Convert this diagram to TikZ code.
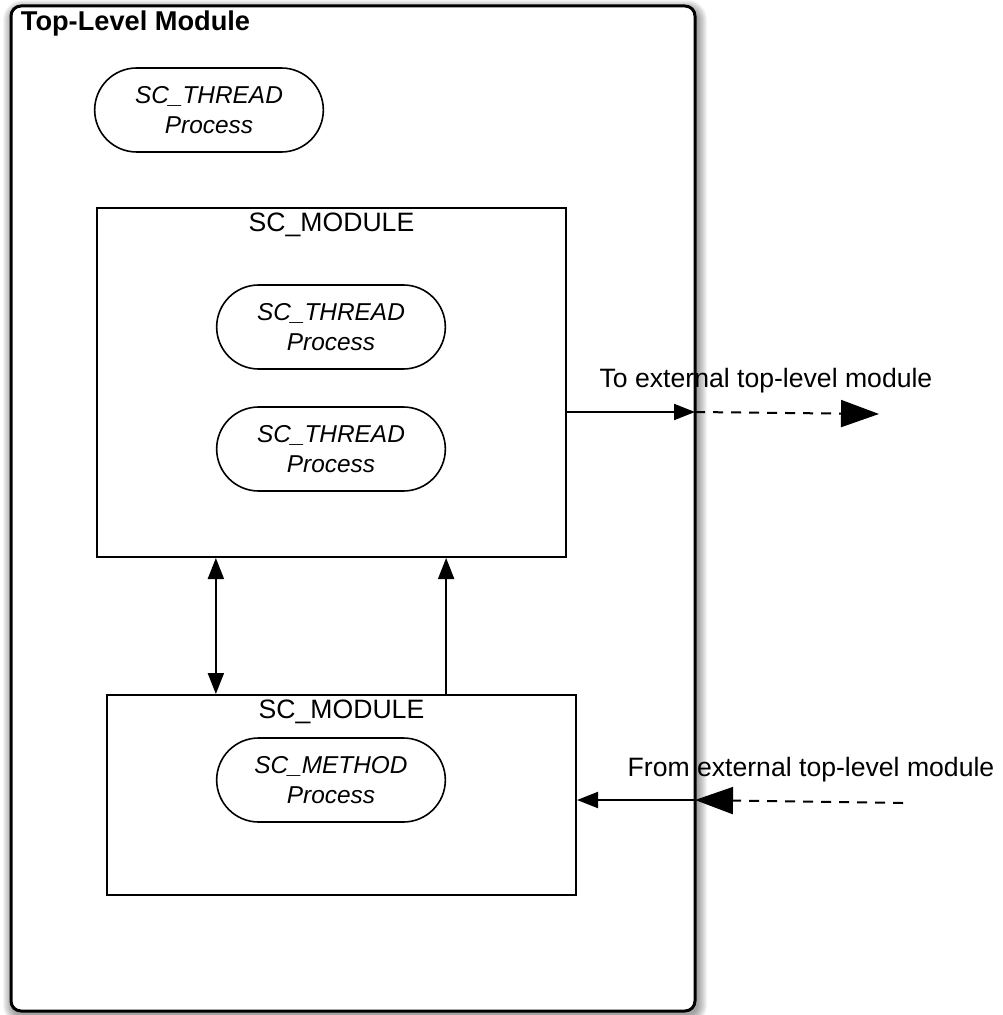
\documentclass[tikz,border=0pt]{standalone}
\usepackage{fontspec}
\setmainfont{Liberation Sans}
\usetikzlibrary{arrows.meta,positioning,shapes.misc}

\begin{document}
\begin{tikzpicture}[x=0.5pt,y=-0.5pt]
\tikzstyle{module}=[draw,line width=1pt,minimum width=234.5pt,inner sep=0pt]
\tikzstyle{process}=[draw,line width=0.8pt,rounded rectangle,minimum width=121pt,minimum height=42pt,align=center,font=\fontsize{12.2}{15}\selectfont\itshape]
\tikzstyle{lbl}=[font=\fontsize{13.3}{16}\selectfont]
\tikzstyle{conn}=[line width=1pt,>={Triangle[length=10.5pt,width=8pt]}]
\tikzstyle{ext}=[line width=1pt,dash pattern=on 5pt off 4pt,-{Triangle[length=19pt,width=13.5pt]}]
\useasboundingbox (0,0) rectangle (1002,1015);
\foreach \i in {1,...,10}
  \fill[black,opacity=0.045,rounded corners={5pt+\i*0.5pt}] (13-\i,10-\i) rectangle (697+\i,1015+\i);
\path (353,508.5) node[draw,fill=white,line width=1.5pt,rounded corners=5pt,minimum width=342pt,minimum height=502.5pt](outer){};
\node[anchor=north west,font=\fontsize{13.6}{16}\selectfont\bfseries,inner xsep=5.5pt,inner ysep=3pt](title) at (outer.north west){Top-Level Module};

\path (209,110) node[process](thr1){SC\_THREAD\\Process};

\path (331.5,382.5) node[module,minimum height=174.5pt](mod1){};
\node[lbl,below=3pt of mod1.north,inner sep=0pt](mod1lbl){SC\_MODULE};
\path (331,327) node[process](thr2){SC\_THREAD\\Process};
\path (331,449) node[process](thr3){SC\_THREAD\\Process};

\path (341.5,795) node[module,minimum height=100pt](mod2){};
\node[lbl,below=3pt of mod2.north,inner sep=0pt](mod2lbl){SC\_MODULE};
\path (331,780) node[process](meth){SC\_METHOD\\Process};

\draw[conn,<->] (meth.west |- mod1.south) -- (meth.west |- mod2.north);
\draw[conn,->] (meth.east |- mod2.north) -- (meth.east |- mod1.south);

\coordinate (outport) at (695,412);
\coordinate (toext) at (879,414);
\draw[conn,->] (mod1.east |- outport) -- (outport);
\draw[ext] (outport) -- (toext);
\path (766,381) node[lbl](tolbl){To external top-level module};

\coordinate (inport) at (695,800);
\coordinate (fromext) at (903,803);
\draw[conn,->] (inport) -- (mod2.east |- inport);
\draw[ext] (fromext) -- (inport);
\path (811,770) node[lbl](fromlbl){From external top-level module};
\end{tikzpicture}
\end{document}
